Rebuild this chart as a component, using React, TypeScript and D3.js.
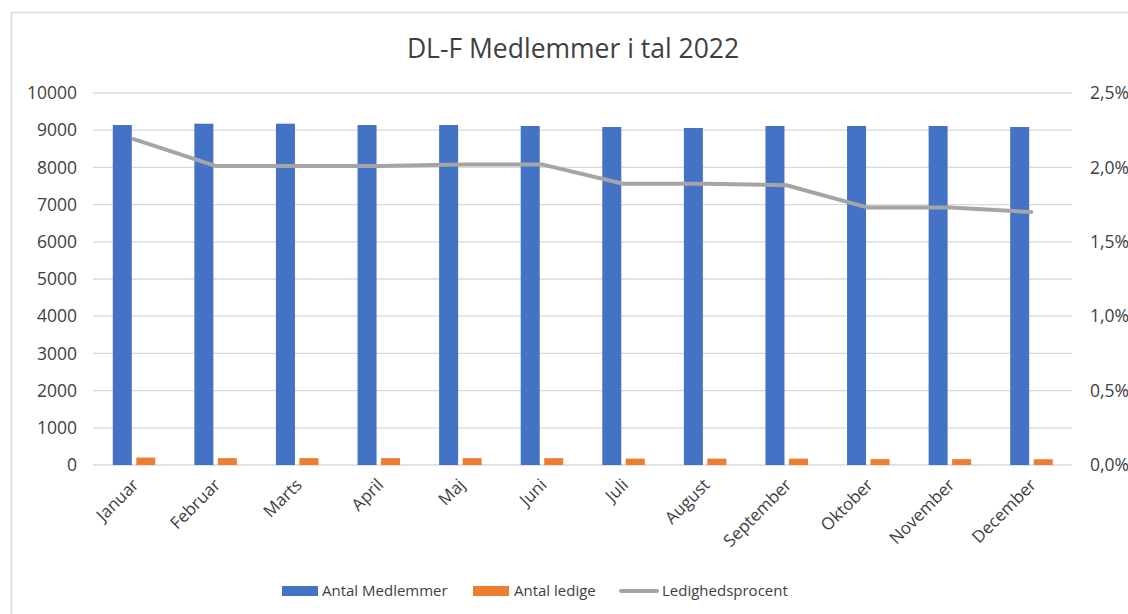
import * as d3 from "d3";

const months = ["Januar", "Februar", "Marts", "April", "Maj", "Juni", "Juli", "August", "September", "Oktober", "November", "December"];
const medlemmer = [9140, 9175, 9175, 9140, 9140, 9113, 9086, 9059, 9113, 9113, 9113, 9086];
const ledige = [200, 184, 184, 184, 185, 184, 172, 171, 171, 158, 158, 155];
const procent = [0.0219, 0.0201, 0.0201, 0.0201, 0.0202, 0.0202, 0.0189, 0.0189, 0.0188, 0.0173, 0.0173, 0.017];
const leftTicks = [0, 1000, 2000, 3000, 4000, 5000, 6000, 7000, 8000, 9000, 10000];
const rightTicks = [0, 0.005, 0.01, 0.015, 0.02, 0.025];

const W = 1128;
const H = 614;
const plotLeft = 93;
const plotRight = 1072;
const plotTop = 93;
const plotBottom = 465;
const font = "'Open Sans', sans-serif";
const textColor = "#404040";

export default function App() {
  const x = d3.scaleBand().domain(months).range([plotLeft, plotRight]);
  const y = d3.scaleLinear().domain([0, 10000]).range([plotBottom, plotTop]);
  const y2 = d3.scaleLinear().domain([0, 0.025]).range([plotBottom, plotTop]);
  const barW = 19;
  const center = (m: string) => (x(m) ?? 0) + x.bandwidth() / 2;

  const line = d3.line<number>()
    .x((_, i) => center(months[i]))
    .y(d => y2(d));

  const fmtPct = (v: number) => (v * 100).toFixed(1).replace(".", ",") + "%";

  return (
    <svg width={W} height={H} style={{ position: "absolute", left: 0, top: 0, background: "#fff" }} fontFamily={font}>
      <rect x={11.5} y={12.5} width={W} height={H} fill="#fff" stroke="#d9d9d9" strokeWidth={1.5} />
      <text x={573} y={58} textAnchor="middle" fontSize={26.5} fill={textColor}>DL-F Medlemmer i tal 2022</text>

      {/* gridlines */}
      {leftTicks.map(t => (
        <line key={t} x1={plotLeft} x2={plotRight} y1={y(t)} y2={y(t)} stroke="#d9d9d9" strokeWidth={1.3} />
      ))}

      {/* left axis */}
      {leftTicks.map(t => (
        <text key={"l" + t} x={77} y={y(t)} dy="0.35em" textAnchor="end" fontSize={17.5} fill={textColor}>{t}</text>
      ))}
      {/* right axis */}
      {rightTicks.map(t => (
        <text key={"r" + t} x={1090} y={y2(t)} dy="0.35em" textAnchor="start" fontSize={17.5} fill={textColor}>{fmtPct(t)}</text>
      ))}

      {/* bars */}
      {months.map((m, i) => (
        <g key={m}>
          <rect x={center(m) - 21} y={y(medlemmer[i])} width={barW} height={plotBottom - y(medlemmer[i])} fill="#4472c4" />
          <rect x={center(m) + 2.5} y={y(ledige[i])} width={barW} height={plotBottom - y(ledige[i])} fill="#ed7d31" />
        </g>
      ))}

      {/* line */}
      <path d={line(procent) ?? ""} fill="none" stroke="#a5a5a5" strokeWidth={4} strokeLinejoin="round" strokeLinecap="round" />

      {/* x labels */}
      {months.map(m => (
        <text key={"x" + m} transform={`translate(${center(m) + 6},${486}) rotate(-45)`} textAnchor="end" fontSize={17} fill={textColor}>{m}</text>
      ))}

      {/* legend */}
      <g fontSize={15} fill={textColor}>
        <rect x={282} y={586} width={36} height={10} fill="#4472c4" />
        <text x={322} y={591} dy="0.35em">Antal Medlemmer</text>
        <rect x={473} y={586} width={36} height={10} fill="#ed7d31" />
        <text x={514} y={591} dy="0.35em">Antal ledige</text>
        <line x1={621} x2={657} y1={591} y2={591} stroke="#a5a5a5" strokeWidth={4} strokeLinecap="round" />
        <text x={662} y={591} dy="0.35em">Ledighedsprocent</text>
      </g>
    </svg>
  );
}
